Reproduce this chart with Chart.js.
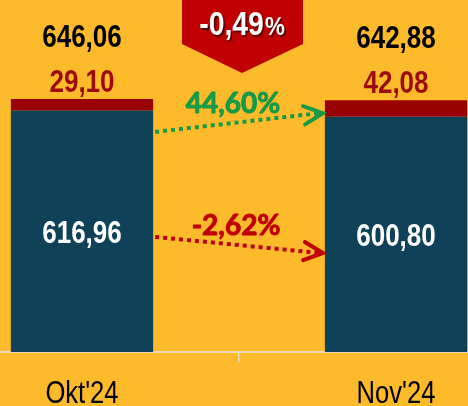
<!DOCTYPE html>
<html><head><meta charset="utf-8">
<script src="https://cdn.jsdelivr.net/npm/chart.js@4"></script>
<style>
html,body{margin:0;padding:0;width:468px;height:406px;overflow:hidden;background:#FDBA2A;}
#wrap{position:absolute;left:-75px;top:0;width:628px;height:406px;}
</style></head><body><div id="wrap"><canvas id="c"></canvas></div>
<script>
const categories = ["Okt'24", "Nov'24"];
const baseValues = [616.96, 600.80];
const topValues = [29.10, 42.08];
const totalValues = [646.06, 642.88];
const totalChangeLabel = "-0,49";
const topChangeLabel = "44,60%";
const baseChangeLabel = "-2,62%";

const fmt = v => v.toFixed(2).replace('.', ',');
const SANS = "'Liberation Sans',Arial,sans-serif";
const ROUND = "Lato,'Open Sans',sans-serif";

// draw horizontally condensed text (Arial Narrow look)
function cText(ctx, text, x, y, font, sx, color, align) {
  ctx.save();
  ctx.font = font;
  ctx.fillStyle = color;
  ctx.textAlign = align || 'center';
  ctx.translate(x, y);
  ctx.scale(sx, 1);
  ctx.fillText(text, 0, 0);
  ctx.restore();
}

const overlay = {
  id: 'overlay',
  afterDatasetsDraw(chart) {
    const ctx = chart.ctx;
    const y = chart.scales.y, xs = chart.scales.x;
    const m0 = chart.getDatasetMeta(0), m1 = chart.getDatasetMeta(1);
    ctx.save();
    ctx.textBaseline = 'alphabetic';
    const B = "bold 31px " + SANS;
    for (let i = 0; i < categories.length; i++) {
      const b = m0.data[i], t = m1.data[i];
      cText(ctx, fmt(baseValues[i]), b.x, (b.y + b.base) / 2 + 12, B, 0.84, '#FFFFFF');
      cText(ctx, fmt(topValues[i]), t.x, t.y - 7, B, 0.84, '#9C0A0A');
      cText(ctx, fmt(totalValues[i]), t.x, t.y - 52, B, 0.84, '#000000');
      // category label
      cText(ctx, categories[i], xs.getPixelForValue(i), 403, "32px " + SANS, 0.8, '#000000');
    }
    // arrows
    const b0 = m0.data[0], b1 = m0.data[1];
    const x0 = b0.x + b0.width / 2 + 2, x1 = b1.x - b1.width / 2 - 2;
    function arrow(color, ys, ye, label, ly, dx) {
      const sy = y.getPixelForValue(ys), ey = y.getPixelForValue(ye);
      ctx.strokeStyle = color;
      ctx.lineWidth = 4;
      ctx.setLineDash([4, 4]);
      ctx.lineCap = 'butt';
      ctx.beginPath(); ctx.moveTo(x0, sy); ctx.lineTo(x1 - 4, ey); ctx.stroke();
      ctx.setLineDash([]);
      const ang = Math.atan2(ey - sy, x1 - x0);
      const L = 21, A = 0.45;
      ctx.lineCap = 'round';
      ctx.lineJoin = 'miter';
      ctx.beginPath();
      ctx.moveTo(x1 - L * Math.cos(ang - A), ey - L * Math.sin(ang - A));
      ctx.lineTo(x1, ey);
      ctx.lineTo(x1 - L * Math.cos(ang + A), ey - L * Math.sin(ang + A));
      ctx.stroke();
      ctx.fillStyle = color;
      ctx.textAlign = 'center';
      ctx.textBaseline = 'middle';
      ctx.font = "bold 28px " + ROUND;
      const lx = (x0 + x1) / 2 + dx, lyp = y.getPixelForValue(ly);
      ctx.fillText(label, lx, lyp);
      ctx.lineWidth = 0.9;
      ctx.lineJoin = 'round';
      ctx.strokeText(label, lx, lyp);
      ctx.textBaseline = 'alphabetic';
    }
    arrow('#169A48', 562, 610, topChangeLabel, 634, -6);
    arrow('#C00000', 294, 253, baseChangeLabel, 322, -3);
    // banner
    const cx = (b0.x + b1.x) / 2 + 3;
    ctx.fillStyle = '#C00000';
    ctx.beginPath();
    ctx.moveTo(cx - 60, 0); ctx.lineTo(cx + 61, 0); ctx.lineTo(cx + 61, 44);
    ctx.lineTo(cx, 73); ctx.lineTo(cx - 60, 44); ctx.closePath(); ctx.fill();
    const f1 = "bold 33px " + SANS, f2 = "bold 26px " + SANS, s1 = 0.86;
    ctx.font = f1; const w1 = ctx.measureText(totalChangeLabel).width * s1;
    ctx.font = f2; const w2 = ctx.measureText('%').width * s1;
    const sx = cx - (w1 + w2 + 1) / 2;
    ctx.shadowColor = 'rgba(0,0,0,0.6)';
    ctx.shadowOffsetX = 1.5; ctx.shadowOffsetY = 1.5; ctx.shadowBlur = 1;
    cText(ctx, totalChangeLabel, sx, 35, f1, s1, '#FFFFFF', 'left');
    cText(ctx, '%', sx + w1 + 1, 35, f2, s1, '#FFFFFF', 'left');
    ctx.restore();
  }
};

new Chart(document.getElementById('c'), {
  type: 'bar',
  data: {
    labels: categories,
    datasets: [
      { data: baseValues, backgroundColor: '#0F4159', borderWidth: 0, barPercentage: 0.453, categoryPercentage: 1 },
      { data: topValues, backgroundColor: '#990000', borderWidth: 0, barPercentage: 0.453, categoryPercentage: 1 }
    ]
  },
  options: {
    responsive: true,
    maintainAspectRatio: false,
    animation: false,
    layout: { padding: 0 },
    plugins: { legend: { display: false }, tooltip: { enabled: false } },
    scales: {
      x: {
        stacked: true,
        offset: true,
        grid: { display: true, offset: true, drawOnChartArea: false, drawTicks: true, tickLength: 10, color: '#E9DCC0', lineWidth: 1.5 },
        border: { display: true, color: '#E9DCC0', width: 2 },
        ticks: { color: 'rgba(0,0,0,0)', font: { family: SANS, size: 31 }, padding: 9 },
        afterFit: s => { s.height = 54; }
      },
      y: { stacked: true, display: false, min: 0, max: 899 }
    }
  },
  plugins: [overlay]
});
</script></body></html>
